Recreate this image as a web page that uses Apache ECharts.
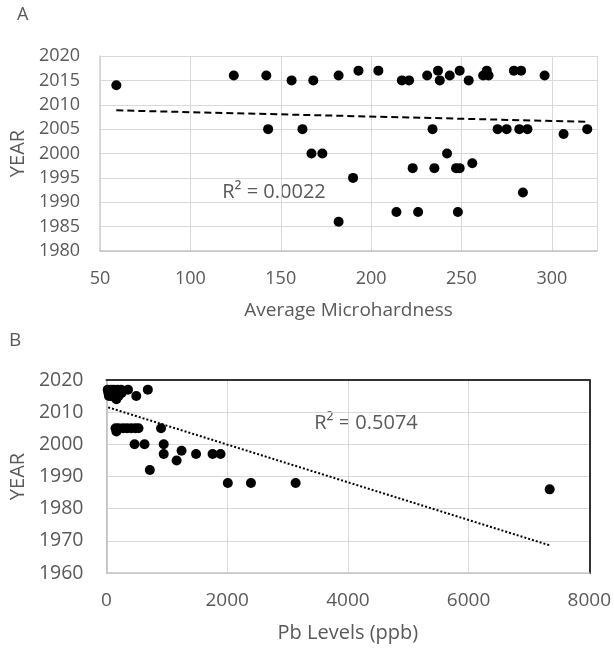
<!DOCTYPE html>
<html lang="en">
<head>
    <meta charset="UTF-8">
    <title>Year vs Microhardness / Pb</title>
    <script src="https://cdn.jsdelivr.net/npm/echarts@6/dist/echarts.min.js"></script>
    <style>
        html, body { margin: 0; padding: 0; background: #fff; }
    </style>
</head>
<body>
<div id="main" style="width: 614px;height:649px;"></div>
<script type="text/javascript">

    // panel A: average microhardness vs year
    var hardness = [59, 124, 142, 156, 168, 182, 193, 204, 217, 221, 231, 237, 238, 243.5, 249, 254, 262, 264, 265, 279, 283, 296,
        143, 162, 234, 270, 275, 282, 286.5, 306.5, 319.6, 167, 173, 242, 223, 235, 247, 249, 256, 190, 284, 214, 226, 248, 182];
    var yearsA = [2014, 2016, 2016, 2015, 2015, 2016, 2017, 2017, 2015, 2015, 2016, 2017, 2015, 2016, 2017, 2015, 2016, 2017, 2016, 2017, 2017, 2016,
        2005, 2005, 2005, 2005, 2005, 2005, 2005, 2004, 2005, 2000, 2000, 2000, 1997, 1997, 1997, 1997, 1998, 1995, 1992, 1988, 1988, 1988, 1986];
    var trendA = [[59, 2008.85], [320, 2006.5]];

    // panel B: Pb levels vs year
    var pb = [20, 70, 120, 180, 240, 356, 685,
        30, 60, 90, 120, 150, 180, 210, 250,
        40, 80, 110, 140, 200, 493, 164,
        150, 200, 274, 340, 411, 480, 530, 904, 164,
        465, 630, 948, 948, 1484, 1758, 1890, 1244, 1162, 718, 2010, 2394, 3134, 7344];
    var yearsB = [2017, 2017, 2017, 2017, 2017, 2017, 2017,
        2016, 2016, 2016, 2016, 2016, 2016, 2016, 2016,
        2015, 2015, 2015, 2015, 2015, 2015, 2014,
        2005, 2005, 2005, 2005, 2005, 2005, 2005, 2005, 2004,
        2000, 2000, 2000, 1997, 1997, 1997, 1997, 1998, 1995, 1992, 1988, 1988, 1988, 1986];
    var trendB = [[28, 2011.5], [7344, 1968.6]];

    function pairs(xs, ys) {
        var out = [];
        for (var i = 0; i < xs.length; i++) out.push([xs[i], ys[i]]);
        return out;
    }
    function plain(v) { return String(v); }

    var font = '"Open Sans", sans-serif';
    var txt = '#595959';
    var grid = '#d9d9d9';

    var myChart = echarts.init(document.getElementById('main'));
    option = {
        animation: false,
        textStyle: {fontFamily: font},
        grid: [
            {left: 95, top: 56, width: 502, height: 195},
            {left: 105, top: 380, width: 487, height: 193}
        ],
        xAxis: [
            {
                gridIndex: 0, type: 'value', min: 50, max: 325, interval: 50,
                name: 'Average Microhardness', nameLocation: 'middle', nameGap: 50,
                nameTextStyle: {color: txt, fontSize: 19, fontFamily: font},
                axisLine: {show: true, lineStyle: {color: '#c4c4c4', width: 1.5}},
                axisTick: {show: false},
                axisLabel: {color: txt, fontSize: 18, margin: 19, showMaxLabel: false, fontFamily: font, formatter: plain},
                splitLine: {show: true, lineStyle: {color: grid, width: 1}}
            },
            {
                gridIndex: 1, type: 'value', min: 0, max: 8000, interval: 2000,
                name: 'Pb Levels (ppb)', nameLocation: 'middle', nameGap: 50,
                nameTextStyle: {color: txt, fontSize: 20, fontFamily: font},
                axisLine: {show: true, lineStyle: {color: '#c4c4c4', width: 1.5}},
                axisTick: {show: false},
                axisLabel: {color: txt, fontSize: 19, margin: 18, fontFamily: font, formatter: plain},
                splitLine: {show: true, lineStyle: {color: grid, width: 1}}
            },
            {
                gridIndex: 1, type: 'value', min: 0, max: 8000, position: 'top',
                axisLine: {show: true, onZero: false, lineStyle: {color: '#333', width: 2}},
                axisTick: {show: false}, axisLabel: {show: false}, splitLine: {show: false}
            }
        ],
        yAxis: [
            {
                gridIndex: 0, type: 'value', min: 1980, max: 2020, interval: 5,
                name: 'YEAR', nameLocation: 'middle', nameGap: 66, nameRotate: 90,
                nameTextStyle: {color: txt, fontSize: 20, fontFamily: font},
                axisLine: {show: true, lineStyle: {color: '#cfcfcf', width: 1.5}},
                axisTick: {show: false},
                axisLabel: {color: txt, fontSize: 18, margin: 20, fontFamily: font, formatter: plain},
                splitLine: {show: true, lineStyle: {color: grid, width: 1}}
            },
            {
                gridIndex: 1, type: 'value', min: 1960, max: 2020, interval: 10,
                name: 'YEAR', nameLocation: 'middle', nameGap: 76, nameRotate: 90,
                nameTextStyle: {color: txt, fontSize: 20, fontFamily: font},
                axisLine: {show: true, lineStyle: {color: '#bbbbbb', width: 1.5}},
                axisTick: {show: false},
                axisLabel: {color: txt, fontSize: 19.5, margin: 23, fontFamily: font, formatter: plain},
                splitLine: {show: true, lineStyle: {color: grid, width: 1}}
            },
            {
                gridIndex: 1, type: 'value', min: 1960, max: 2020, position: 'right',
                axisLine: {show: true, onZero: false, lineStyle: {color: '#333', width: 2}},
                axisTick: {show: false}, axisLabel: {show: false}, splitLine: {show: false}
            }
        ],
        graphic: [
            {type: 'text', left: 17, top: 6, style: {text: 'A', fill: txt, font: '18px ' + font}},
            {type: 'text', left: 9, top: 331, style: {text: 'B', fill: txt, font: '19px ' + font}},
            {type: 'text', x: 274, y: 192, style: {text: 'R² = 0.0022', fill: txt, font: '20px ' + font, textAlign: 'center', textVerticalAlign: 'middle'}},
            {type: 'text', x: 366, y: 423, style: {text: 'R² = 0.5074', fill: txt, font: '20px ' + font, textAlign: 'center', textVerticalAlign: 'middle'}}
        ],
        series: [
            {
                name: 'A', type: 'scatter', xAxisIndex: 0, yAxisIndex: 0,
                data: pairs(hardness, yearsA), symbolSize: 10,
                itemStyle: {color: '#000', opacity: 1}, z: 3
            },
            {
                name: 'A trend', type: 'line', xAxisIndex: 0, yAxisIndex: 0,
                data: trendA, symbol: 'none',
                lineStyle: {color: '#000', width: 2, type: [7, 4]}, z: 2
            },
            {
                name: 'B', type: 'scatter', xAxisIndex: 1, yAxisIndex: 1,
                data: pairs(pb, yearsB), symbolSize: 10,
                itemStyle: {color: '#000', opacity: 1}, z: 3
            },
            {
                name: 'B trend', type: 'line', xAxisIndex: 1, yAxisIndex: 1,
                data: trendB, symbol: 'none',
                lineStyle: {color: '#000', width: 2, type: [2, 2]}, z: 2
            }
        ]
    };
    myChart.setOption(option);

</script>
</body>
</html>
